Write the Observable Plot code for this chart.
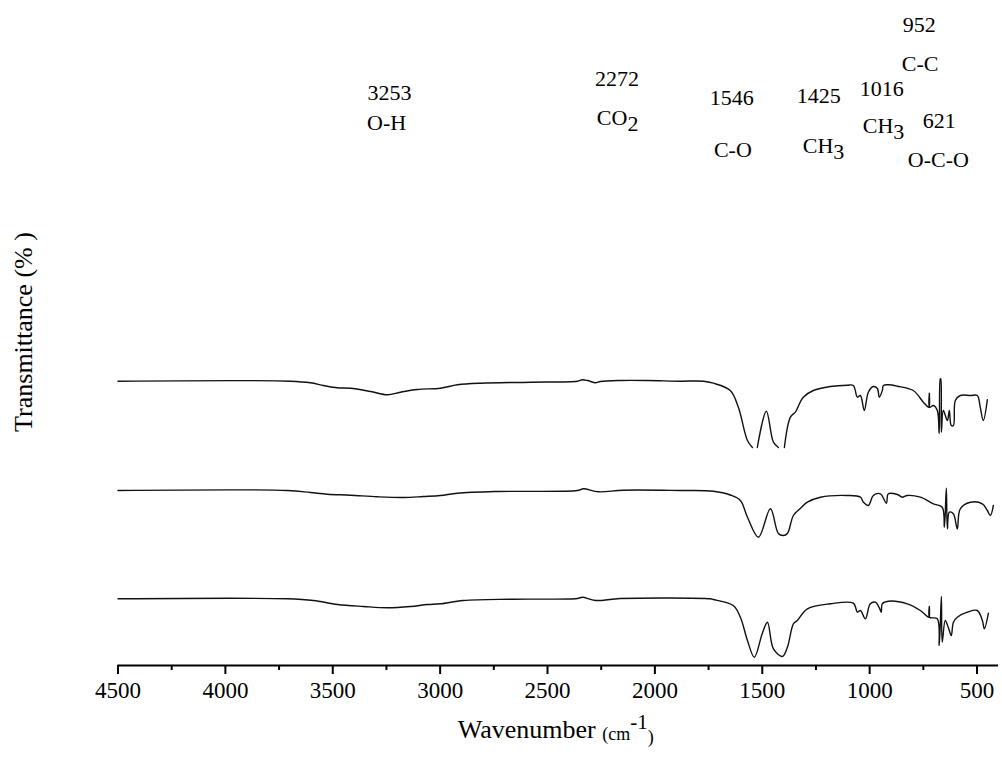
<!DOCTYPE html>
<html><head><meta charset="utf-8">
<script src="https://cdn.jsdelivr.net/npm/d3@7"></script>
<script src="https://cdn.jsdelivr.net/npm/@observablehq/plot@0.6"></script>
<style>body{margin:0;background:#fff} svg{display:block}</style>
</head><body><div id="chart"></div>
<script>
// ---- data (wavenumber cm-1, offset transmittance, arbitrary units) ----
const topWn = [4500,3697,3604,3543,3478,3418,3324,3245,3185,3106,2999,2919,2812,2580,2361,2338,2314,2277,2254,2161,2035,1881,1774,1728,1649,1611,1569,1546,1535,1523,1481,1448,1425,1411,1397,1369,1346,1337,1309,1262,1183,1104,1076,1057,1043,1025,1006,983,964,955,941,936,913,871,797,750,727,723,722,721,703,685,676,671,669,666,657,638,629,620,610,601,578,531,499,485,471,452];
const topT  = [56.86,56.86,56.54,56.0,55.54,55.46,54.8,54.14,54.66,55.2,55.46,56.14,56.46,56.66,56.86,57.14,57.0,56.54,56.8,57.0,57.0,56.86,56.86,56.46,55.0,51.6,45.0,43.6,NaN,43.6,50.86,44.66,43.6,NaN,43.6,49.66,50.66,51.4,53.66,55.0,55.8,56.06,56.0,53.66,54.0,51.0,54.66,55.8,55.4,53.66,55.0,56.0,56.14,55.86,55.0,52.66,51.66,51.66,54.46,51.66,52.0,51.0,46.4,57.34,57.34,46.66,51.0,49.0,51.0,48.0,48.0,53.0,54.0,54.0,54.0,51.66,49.0,53.14];

const midWn = [4500,3711,3604,3525,3418,3292,3171,3078,2999,2919,2733,2361,2333,2263,2147,1881,1728,1649,1602,1569,1518,1462,1425,1402,1383,1355,1323,1290,1229,1104,1043,1029,1006,983,950,922,913,871,848,825,764,703,662,652,643,638,629,610,592,578,531,475,452,438,424];
const midT  = [35.0,35.0,34.6,34.26,34.06,33.74,33.6,33.8,34.0,34.46,34.8,35.0,35.34,34.74,35.06,35.0,34.86,34.1,33.0,29.66,25.66,31.34,26.4,26.0,26.4,30.0,31.4,32.66,33.66,34.0,33.66,32.66,32.0,34.0,34.34,32.46,34.34,34.2,33.66,34.0,33.66,32.34,31.66,27.66,35.46,27.34,30.66,30.34,27.34,31.34,32.66,32.34,31.0,30.0,32.0];

const botWn = [4500,3711,3590,3478,3357,3245,3138,3059,2999,2892,2659,2361,2338,2277,2161,1742,1728,1635,1602,1569,1537,1500,1476,1448,1406,1383,1355,1337,1290,1183,1076,1057,1043,1020,997,973,955,946,941,913,825,764,727,723,722,721,685,676,666,662,648,634,620,610,592,545,499,475,466,447];
const botT  = [13.34,13.34,13.0,12.2,11.8,11.54,11.8,12.2,12.34,13.0,13.26,13.4,13.66,13.0,13.4,13.34,13.2,12.0,9.66,5.0,1.66,6.4,8.66,3.34,1.8,3.66,8.34,9.0,11.34,12.34,12.46,10.66,11.0,9.34,12.34,12.66,11.54,10.66,12.34,12.86,12.34,11.0,9.66,9.66,11.8,9.66,9.34,4.0,13.8,4.66,9.0,7.66,6.0,8.66,9.66,10.66,11.0,9.0,7.34,10.46];

const majorTicks = [4500,4000,3500,3000,2500,2000,1500,1000,500];
const minorTicks = [4250,3750,3250,2750,2250,1750,1250,750];

// peak annotations: left edge wavenumber, baseline level, text, subscript
const annWn   = [3336,3338,2277,2268,1742,1723,1337,1309,1044,1030,843,848,750,820];
const annLvl  = [113.0,107.0,115.8,108.0,112.0,101.6,112.4,102.4,113.8,106.4,126.6,118.8,107.4,99.6];
const annText = ["3253","O-H","2272","CO","1546","C-O","1425","CH","1016","CH","952","C-C","621","O-C-O"];
const annSub  = ["","","","2","","","","3","","3","","","",""];

const xLabel = "Wavenumber";
const yLabel = "Transmittance (% )";

// ---- build rows ----
const rows = (wn, t, s) => wn.map((w, i) => ({wn: w, t: t[i], s}));
const spectra = [...rows(topWn, topT, "a"), ...rows(midWn, midT, "b"), ...rows(botWn, botT, "c")];

const font = "Liberation Serif, Tinos, Times New Roman, Times, DejaVu Serif, serif";

const chart = Plot.plot({
  width: 1002,
  height: 757,
  marginLeft: 117.5,
  marginRight: 4,
  marginTop: 0,
  marginBottom: 92,
  x: {domain: [4500, 400], label: null},
  y: {domain: [0, 133], axis: null, label: null},
  style: {fontFamily: font, fontSize: "22px", background: "white", color: "#000"},
  marks: [
    Plot.ruleY([0], {stroke: "#000", strokeWidth: 2}),
    Plot.axisX(majorTicks, {tickSize: 9, tickPadding: 7, strokeWidth: 2, tickFormat: d => String(d), fontSize: 23, fontFamily: font, label: null}),
    Plot.axisX(minorTicks, {tickSize: 5, strokeWidth: 2, tickFormat: () => "", label: null}),
    Plot.line(spectra, {x: "wn", y: "t", z: "s", stroke: "#111", strokeWidth: 1.4, strokeLinejoin: "round", curve: "catmull-rom"})
  ]
});
document.getElementById("chart").appendChild(chart);

const sx = chart.scale("x"), sy = chart.scale("y");
const svg = d3.select(chart);

// annotations
annText.forEach((t, i) => {
  const el = svg.append("text")
    .attr("x", sx.apply(annWn[i]))
    .attr("y", sy.apply(annLvl[i]))
    .attr("text-anchor", "start")
    .style("font-family", font)
    .attr("font-size", 22)
    .attr("fill", "#000");
  el.append("tspan").text(t);
  if (annSub[i]) el.append("tspan").attr("dy", 6).text(annSub[i]);
});

// x axis title
const xMid = (sx.range[0] + sx.range[1]) / 2;
const xt = svg.append("text")
  .attr("x", xMid - 2).attr("y", sy.apply(0) + 73)
  .attr("text-anchor", "middle")
  .style("font-family", font).attr("fill", "#000");
xt.append("tspan").attr("font-size", 26).text(xLabel + " ");
xt.append("tspan").attr("font-size", 18).attr("dy", 2).text("(cm");
xt.append("tspan").attr("font-size", 21).attr("dy", -11).text("-1");
xt.append("tspan").attr("font-size", 18).attr("dy", 14).text(")");

// y axis title
const yMid = 332;
svg.append("text")
  .attr("transform", `translate(32,${yMid}) rotate(-90)`)
  .attr("text-anchor", "middle")
  .style("font-family", font).attr("font-size", 26).attr("fill", "#000")
  .text(yLabel);
</script>
</body></html>
